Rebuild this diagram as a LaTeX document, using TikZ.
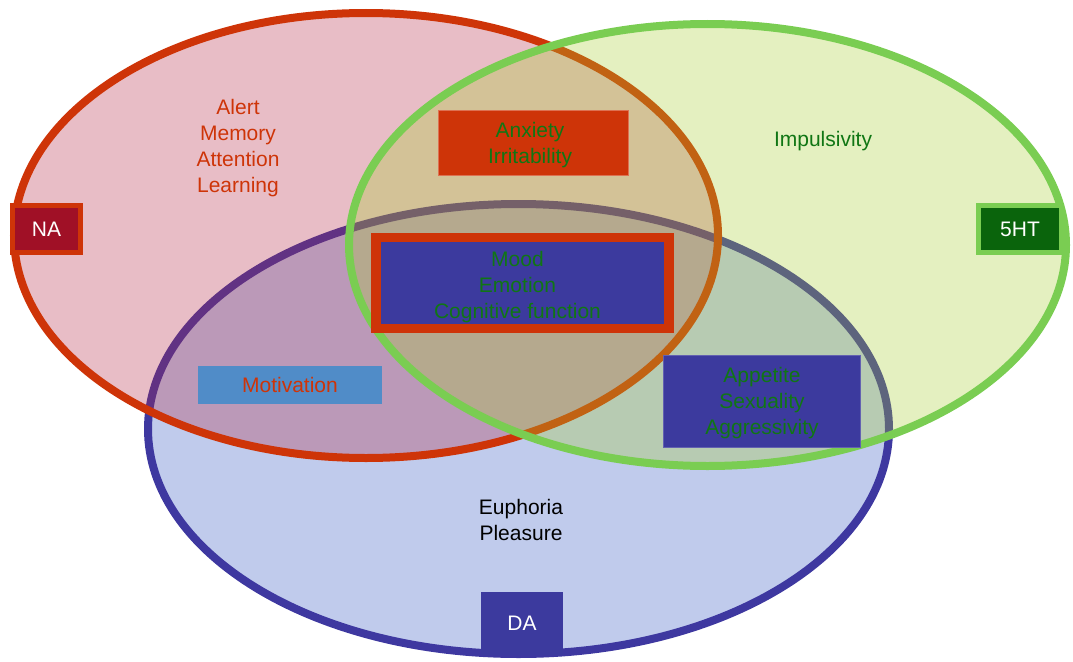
\documentclass[tikz,border=0pt]{standalone}
\usepackage{fontspec}
\setmainfont{Liberation Sans}
\begin{document}
\definecolor{naline}{RGB}{206,52,8}
\definecolor{nafill}{RGB}{178,38,65}
\definecolor{htline}{RGB}{122,205,82}
\definecolor{htfill}{RGB}{165,205,45}
\definecolor{daline}{RGB}{62,56,160}
\definecolor{dafill}{RGB}{45,82,192}
\definecolor{nabox}{RGB}{160,16,38}
\definecolor{htbox}{RGB}{10,100,12}
\definecolor{dabox}{RGB}{60,58,158}
\definecolor{txtgreen}{RGB}{16,118,20}
\definecolor{motbox}{RGB}{80,140,200}
\begin{tikzpicture}[x=1pt,y=-1pt,
  set/.style={line width=8pt,fill opacity=0.3},
  lbl/.style={font=\fontsize{21}{26}\selectfont,align=center,inner sep=0pt},
  tagbox/.style={lbl,text=white,minimum height=47pt},
  panel/.style={lbl,text=txtgreen}]
\useasboundingbox (0,0) rectangle (1073,661);
% the three transmitter systems
\draw[set,draw=daline,fill=dafill] (518.5,429) ellipse [x radius=370.5,y radius=225];
\draw[set,draw=naline,fill=nafill] (366,235.5) ellipse [x radius=352,y radius=222.5];
\draw[set,draw=htline,fill=htfill] (707.5,245) ellipse [x radius=358.5,y radius=221];
% system labels
\node[tagbox,fill=nabox,draw=naline,line width=5pt,minimum width=68pt] (na) at (46.5,229) {NA};
\node[tagbox,fill=htbox,draw=htline,line width=5pt,minimum width=83pt] (ht) at (1020,229) {5HT};
\node[tagbox,fill=dabox,draw=dabox,line width=1pt,minimum width=81pt,minimum height=62pt] (da) at (522,623.5) {DA};
% functions in each region
\node[lbl,text=naline] (alert) at (238,148) {Alert\\Memory\\Attention\\Learning};
\node[lbl,text=txtgreen] (imp) at (823,141) {Impulsivity};
\node[lbl,text=black] (eup) at (521,520) {Euphoria\\Pleasure};
\node[lbl,fill=naline,draw=naline!70!white,line width=1pt,minimum width=190pt,minimum height=65pt] (anx) at (533.5,143) {};
\node[panel] (anxtxt) at (530,145) {Anxiety\\Irritability};
\node[lbl,fill=dabox,draw=naline,line width=9.5pt,minimum width=293pt,minimum height=91pt] (mood) at (522.5,283) {};
\node[panel] (moodtxt) at (517.5,287) {Mood\\Emotion\\Cognitive function};
\node[lbl,fill=dabox,draw=dabox!80!white,line width=1pt,minimum width=197pt,minimum height=92pt] (app) at (762,401.5) {};
\node[panel] (apptxt) at (762,403.5) {Appetite\\Sexuality\\Aggressivity};
\node[lbl,text=naline,fill=motbox,minimum width=184pt,minimum height=38pt] (mot) at (290,384.5) {Motivation};
\end{tikzpicture}
\end{document}
